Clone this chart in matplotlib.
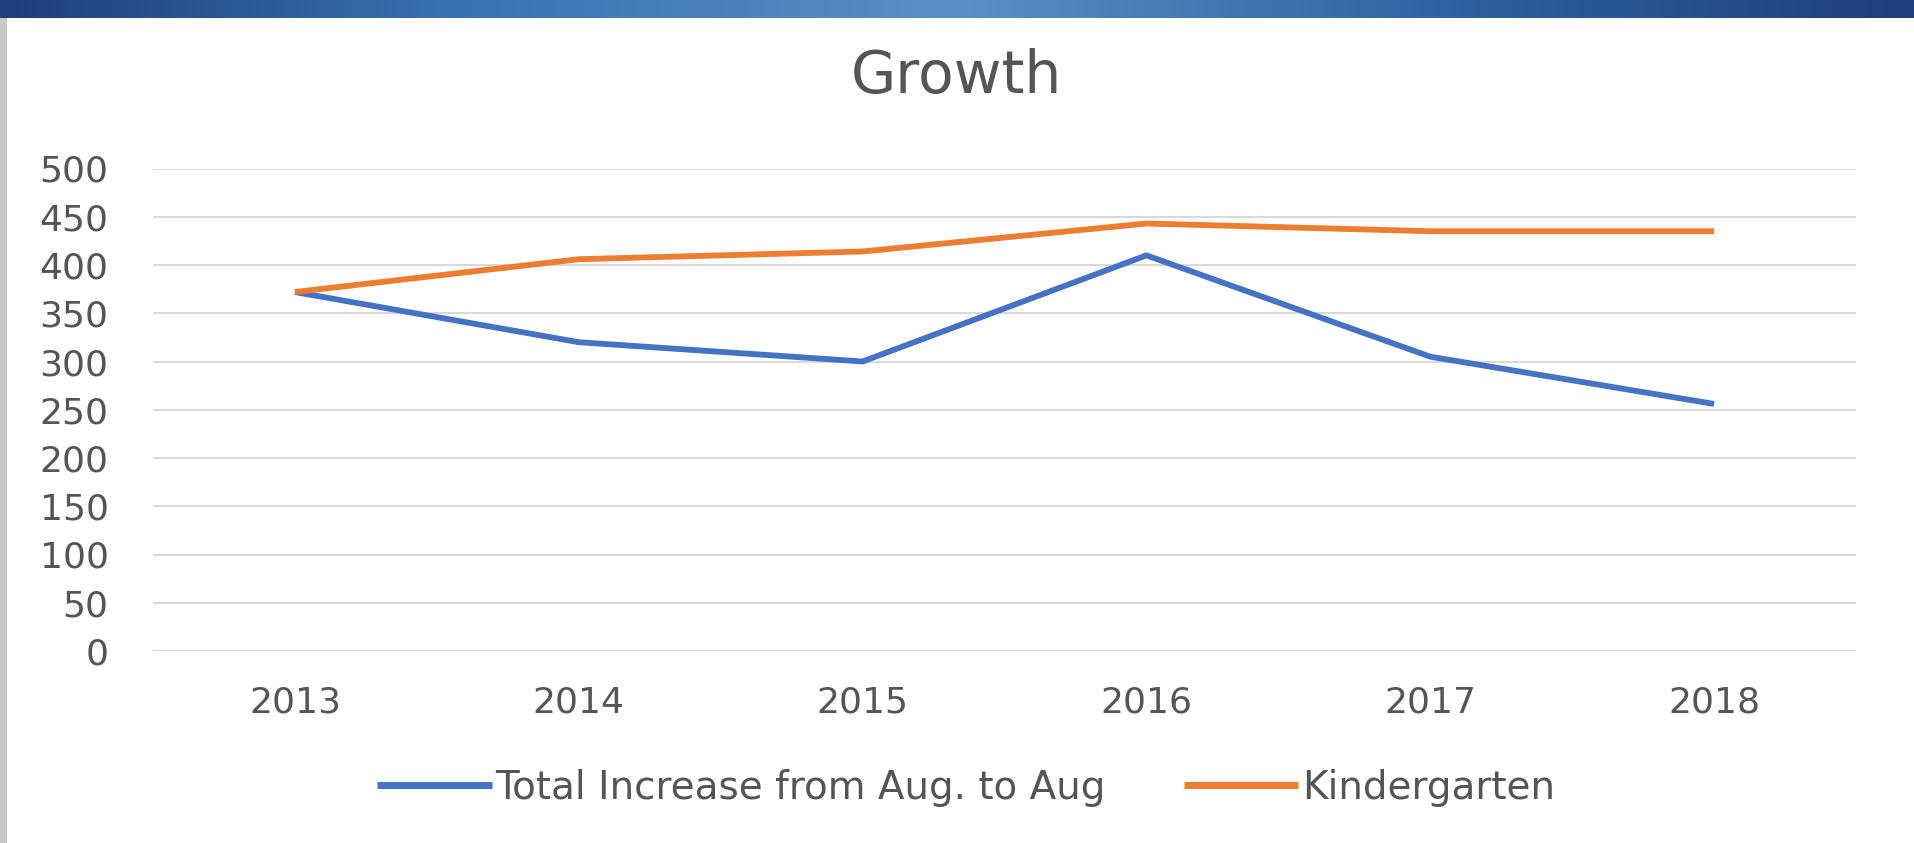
import numpy as np
import matplotlib
matplotlib.use('Agg')
import matplotlib.pyplot as plt

years = ['2013', '2014', '2015', '2016', '2017', '2018']
total_increase = [372, 320, 300, 410, 305, 256]
kindergarten = [372, 406, 414, 443, 435, 435]
y_ticks = [0, 50, 100, 150, 200, 250, 300, 350, 400, 450, 500]

plt.rcParams.update({'font.family': 'DejaVu Sans'})
txt = '#555555'

fig = plt.figure(figsize=(19.15, 8.43), dpi=100)
fig.patch.set_facecolor('white')

# slide banner strip at the top
band = fig.add_axes([0, 1 - 18 / 843, 1, 18 / 843])
grad = np.linspace(0, 1, 256)
band.imshow(np.vstack([grad, grad]), aspect='auto', cmap=matplotlib.colors.LinearSegmentedColormap.from_list(
    'b', ['#1d3f7a', '#3a74b4', '#5a8fc6', '#2f63a3', '#1d3f7a']), extent=[0, 1, 0, 1])
band.axis('off')

# light grey edge on the left
edge = fig.add_axes([0, 0, 7 / 1915, 1 - 18 / 843])
edge.set_facecolor('#c8c8c8')
edge.set_xticks([]); edge.set_yticks([])
for s in edge.spines.values():
    s.set_visible(False)

ax = fig.add_axes([153 / 1915, 1 - 651 / 843, (1856 - 153) / 1915, (651 - 168.5) / 843])
x = np.arange(len(years))
ax.plot(x, total_increase, color='#4472C4', linewidth=4.2, solid_capstyle='butt',
        label='Total Increase from Aug. to Aug')
ax.plot(x, kindergarten, color='#ED7D31', linewidth=4.2, solid_capstyle='butt',
        label='Kindergarten')

ax.set_xlim(-0.5, len(years) - 0.5)
ax.set_ylim(0, 500)
ax.set_yticks(y_ticks)
ax.set_xticks(x)
ax.set_xticklabels(years)
ax.grid(axis='y', color='#d9d9d9', linewidth=1.5)
ax.set_axisbelow(True)
for s in ax.spines.values():
    s.set_visible(False)
ax.tick_params(axis='both', length=0, labelsize=26, labelcolor=txt)
ax.tick_params(axis='y', pad=32)
ax.tick_params(axis='x', pad=25)

fig.text(956 / 1915, 1 - 76 / 843, 'Growth', ha='center', va='center', fontsize=42, color=txt)

leg = fig.legend(loc='center', bbox_to_anchor=(966 / 1915, 1 - 788 / 843), ncol=2, frameon=False,
                 fontsize=28, handlelength=2.95, handletextpad=0.1, columnspacing=2.0)
for t in leg.get_texts():
    t.set_color(txt)
for h in leg.get_lines():
    h.set_linewidth(5)

plt.savefig('out.png', dpi=100)
plt.close()
